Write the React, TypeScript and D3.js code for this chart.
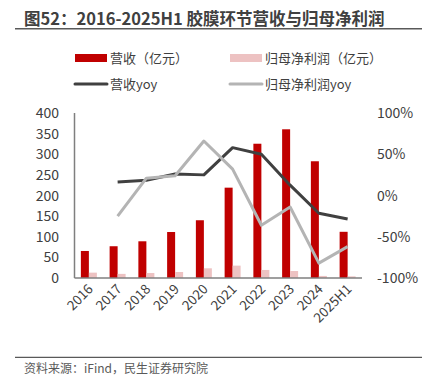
import React from "react";
import * as d3 from "d3";

const categories = ["2016", "2017", "2018", "2019", "2020", "2021", "2022", "2023", "2024", "2025H1"];
const revenue = [65.5, 77, 89, 111.5, 140, 219, 325.5, 360.5, 283, 112];
const netProfit = [13, 10, 12, 14.5, 23.5, 30, 19.5, 17, 5, 4];
const revenueYoy: (number | null)[] = [null, 16.5, 18.5, 26, 25, 58, 50, 12.5, -21.5, -28.5];
const profitYoy: (number | null)[] = [null, -25, 21, 24, 66, 32, -36, -14, -82, -62];
const leftTicks = [0, 50, 100, 150, 200, 250, 300, 350, 400];
const rightTicks = [-100, -50, 0, 50, 100];

const W = 429, H = 391;
const left = 74.5, right = 362, top = 113, bottom = 278;
const font = "'Noto Sans CJK SC', 'Noto Sans', sans-serif";

export default function App() {
  const x = d3.scaleBand<string>().domain(categories).range([left, right]);
  const yL = d3.scaleLinear().domain([0, 400]).range([bottom, top]);
  const yR = d3.scaleLinear().domain([-100, 100]).range([bottom, top]);
  const bw = 8;
  const cx = (c: string) => (x(c) as number) + x.bandwidth() / 2;
  const line = d3
    .line<number | null>()
    .defined((d) => d !== null)
    .x((_, i) => cx(categories[i]))
    .y((d) => yR(d as number));

  return (
    <svg width={W} height={H} style={{ position: "absolute", left: 0, top: 0 }} fontFamily={font}>
      <rect width={W} height={H} fill="#fff" />
      <text x={24} y={25} fontSize={16.5} fontWeight="bold" fill="#404040">
        图52：2016-2025H1 胶膜环节营收与归母净利润
      </text>
      <line x1={15} x2={422} y1={28.7} y2={28.7} stroke="#595959" strokeWidth={1.5} />

      {/* legend */}
      <rect x={75} y={54} width={32} height={8} fill="#C00000" />
      <text x={110} y={63} fontSize={13} fill="#404040">营收（亿元）</text>
      <rect x={230} y={54} width={32} height={8} fill="#EDC2C2" />
      <text x={265} y={63} fontSize={13} fill="#404040">归母净利润（亿元）</text>
      <line x1={75} x2={107} y1={84} y2={84} stroke="#404040" strokeWidth={3} strokeLinecap="round" />
      <text x={110} y={89} fontSize={13} fill="#404040">营收yoy</text>
      <line x1={230} x2={262} y1={84} y2={84} stroke="#B4B4B4" strokeWidth={3} strokeLinecap="round" />
      <text x={265} y={89} fontSize={13} fill="#404040">归母净利润yoy</text>

      {/* left ticks */}
      {leftTicks.map((t) => (
        <text key={t} x={59} y={yL(t) + 5} fontSize={14} textAnchor="end" fill="#404040">
          {t}
        </text>
      ))}
      {rightTicks.map((t) => (
        <text key={t} x={377} y={yR(t) + 5} fontSize={14} textAnchor="start" fill="#404040">
          {t}%
        </text>
      ))}

      {/* bars */}
      {categories.map((c, i) => (
        <g key={c}>
          <rect x={cx(c) - bw} y={yL(revenue[i])} width={bw} height={bottom - yL(revenue[i])} fill="#C00000" />
          <rect x={cx(c)} y={yL(netProfit[i])} width={bw} height={bottom - yL(netProfit[i])} fill="#EDC2C2" />
        </g>
      ))}

      <path d={line(revenueYoy) || ""} fill="none" stroke="#404040" strokeWidth={3} strokeLinejoin="round" />
      <path d={line(profitYoy) || ""} fill="none" stroke="#B4B4B4" strokeWidth={3} strokeLinejoin="round" />

      {/* axes */}
      <line x1={left} x2={left} y1={top} y2={bottom} stroke="#7F7F7F" strokeWidth={1.5} />
      <line x1={left} x2={right} y1={bottom} y2={bottom} stroke="#7F7F7F" strokeWidth={1.5} />

      {categories.map((c) => (
        <text
          key={c}
          fontSize={13.5}
          fill="#404040"
          textAnchor="end"
          transform={`translate(${cx(c) + 5},${bottom + 12}) rotate(-45)`}
        >
          {c}
        </text>
      ))}

      <line x1={15} x2={422} y1={357.3} y2={357.3} stroke="#595959" strokeWidth={1.2} />
      <text x={24} y={373} fontSize={12} fill="#595959">资料来源：iFind，民生证券研究院</text>
    </svg>
  );
}
